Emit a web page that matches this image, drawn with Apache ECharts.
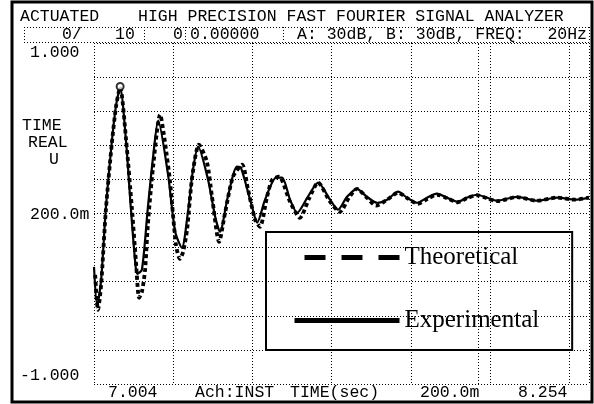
<!DOCTYPE html>
<html><head><meta charset="utf-8">
<script src="https://cdn.jsdelivr.net/npm/echarts@6/dist/echarts.min.js"></script>
<style>html,body{margin:0;padding:0;background:#fff}#c{width:594px;height:404px}</style>
</head><body><div id="c"></div>
<script>
// time measured from sweep start (7.004 s), seconds
const expTime = [0, 0.008, 0.018, 0.030, 0.045, 0.056, 0.066, 0.081, 0.093, 0.104, 0.109, 0.121, 0.136, 0.149, 0.162, 0.187, 0.205, 0.222, 0.237, 0.250, 0.263, 0.288, 0.306, 0.318, 0.338, 0.361, 0.371, 0.399, 0.412, 0.432, 0.460, 0.475, 0.495, 0.513, 0.540, 0.566, 0.596, 0.616, 0.639, 0.664, 0.689, 0.715, 0.740, 0.768, 0.790, 0.816, 0.841, 0.866, 0.891, 0.919, 0.942, 0.967, 0.992, 1.018, 1.068, 1.119, 1.169, 1.215, 1.25];
const expValue = [-0.313, -0.542, -0.389, 0.034, 0.421, 0.639, 0.739, 0.421, 0.034, -0.283, -0.354, -0.330, 0.034, 0.327, 0.545, 0.228, -0.107, -0.201, 0.004, 0.257, 0.392, 0.198, -0.019, -0.107, 0.098, 0.275, 0.269, 0.040, -0.054, 0.081, 0.210, 0.210, 0.081, 0.004, 0.098, 0.181, 0.081, 0.022, 0.098, 0.145, 0.098, 0.063, 0.081, 0.128, 0.093, 0.063, 0.093, 0.116, 0.093, 0.069, 0.093, 0.110, 0.093, 0.075, 0.098, 0.075, 0.093, 0.081, 0.093];
const theoTime = [0.003, 0.010, 0.018, 0.030, 0.045, 0.056, 0.066, 0.081, 0.096, 0.106, 0.114, 0.121, 0.129, 0.136, 0.149, 0.167, 0.179, 0.192, 0.207, 0.217, 0.225, 0.235, 0.248, 0.265, 0.285, 0.298, 0.316, 0.331, 0.351, 0.374, 0.389, 0.407, 0.419, 0.437, 0.450, 0.467, 0.495, 0.520, 0.543, 0.566, 0.596, 0.621, 0.644, 0.664, 0.689, 0.712, 0.740, 0.768, 0.793, 0.818, 0.843, 0.866, 0.891, 0.919, 0.942, 0.967, 0.992, 1.018, 1.068, 1.119, 1.169, 1.215, 1.25];
const theoValue = [-0.360, -0.565, -0.418, 0.022, 0.410, 0.633, 0.739, 0.433, 0.022, -0.283, -0.495, -0.460, -0.330, -0.066, 0.269, 0.580, 0.421, 0.187, -0.184, -0.266, -0.225, -0.095, 0.216, 0.404, 0.304, 0.098, -0.166, 0.004, 0.216, 0.286, 0.140, -0.037, -0.078, 0.098, 0.198, 0.216, 0.069, -0.025, 0.087, 0.181, 0.069, 0.010, 0.093, 0.145, 0.093, 0.046, 0.081, 0.122, 0.087, 0.057, 0.087, 0.110, 0.090, 0.066, 0.090, 0.107, 0.090, 0.072, 0.096, 0.075, 0.093, 0.081, 0.093];
const markerTime = [0.066];
const markerValue = [0.745];
const cursorTime = [0.967];
const seriesNames = ['Theoretical', 'Experimental'];
const headerTexts = ['ACTUATED', 'HIGH PRECISION FAST FOURIER SIGNAL ANALYZER', '0/', '10', '0', '0.00000', 'A: 30dB, B: 30dB, FREQ:', '20Hz'];
const yLabels = ['1.000', 'TIME', 'REAL', 'U', '200.0m', '-1.000'];
const xLabels = ['7.004', 'Ach:INST', 'TIME(sec)', '200.0m', '8.254'];

// ---- layout (positions/styles) ----
const MONO = '16.5px "Liberation Mono", "DejaVu Sans Mono", monospace';
const headerPos = [[20,17,'left'],[138,17,'left'],[62,35,'left'],[115,35,'left'],[173,35,'left'],[190,35,'left'],[297,35,'left'],[587,35,'right']];
const yLabelPos = [[30,53],[22,126],[28,143],[49,160],[30,215],[20,376]];
const xLabelPos = [[108,393],[195,393],[290,393],[420,393],[518,393]];

const graphics = [];
function txt(t, x, y, align) {
  graphics.push({type:'text', silent:true, style:{text:t, x:x, y:y, font:MONO, fill:'#000', textAlign:align||'left', textVerticalAlign:'middle'}});
}
headerTexts.forEach((t,i)=>txt(t, headerPos[i][0], headerPos[i][1], headerPos[i][2]));
yLabels.forEach((t,i)=>txt(t, yLabelPos[i][0], yLabelPos[i][1]));
xLabels.forEach((t,i)=>txt(t, xLabelPos[i][0], xLabelPos[i][1]));
function dl(x1,y1,x2,y2){
  graphics.push({type:'line', silent:true, shape:{x1:x1,y1:y1,x2:x2,y2:y2}, style:{stroke:'#000', lineWidth:1, lineDash:[1,2]}});
}
dl(24,27.5,589,27.5); dl(24,42.5,589,42.5);
[24,144,185,283,589].forEach(x=>dl(x+0.5,27,x+0.5,42));
graphics.push({type:'rect', silent:true, shape:{x:12, y:2, width:580, height:400}, style:{fill:'none', stroke:'#000', lineWidth:3}});

const gridLine = {show:true, lineStyle:{color:'#000', width:1, type:[1,2]}};
const chart = echarts.init(document.getElementById('c'), null, {renderer:'canvas'});
chart.setOption({
  animation:false,
  backgroundColor:'#fff',
  graphic: graphics,
  grid:{left:94, top:43, width:495, height:341, show:false},
  xAxis:{type:'value', min:0, max:1.25, interval:0.2, axisLine:{show:false}, axisTick:{show:false}, axisLabel:{show:false}, splitLine:gridLine},
  yAxis:{type:'value', min:-1, max:1, interval:0.2, axisLine:{show:false}, axisTick:{show:false}, axisLabel:{show:false}, splitLine:gridLine},
  legend:{
    orient:'vertical', left:266, top:232,
    padding:[13,33,17,26], itemGap:38, itemWidth:105, itemHeight:24,
    borderColor:'#000', borderWidth:2, backgroundColor:'transparent',
    itemStyle:{opacity:0, borderWidth:0},
    textStyle:{fontFamily:'"Liberation Serif", "Times New Roman", serif', fontSize:25, color:'#000'},
    data:[
      {name:seriesNames[0], itemStyle:{opacity:0, borderWidth:0}, lineStyle:{width:5, type:[21,16], dashOffset:27, color:'#000', opacity:1}},
      {name:seriesNames[1], itemStyle:{opacity:0, borderWidth:0}, lineStyle:{width:5, type:'solid', color:'#000', opacity:1}}
    ]
  },
  series:[
    {name:seriesNames[1], type:'line', symbol:'none', showSymbol:false, smooth:0.25, z:2,
     data: expTime.map((t,i)=>[t, expValue[i]]),
     lineStyle:{color:'#000', width:2.2}, itemStyle:{color:'#000'},
     markLine:{silent:true, symbol:'none', label:{show:false},
       lineStyle:{color:'#000', width:1, type:[1,2]},
       data: cursorTime.map(t=>({xAxis:t}))}},
    {name:seriesNames[0], type:'line', symbol:'none', showSymbol:false, smooth:0.25, z:3,
     data: theoTime.map((t,i)=>[t, theoValue[i]]),
     lineStyle:{color:'#000', width:3.8, type:[4,3]}, itemStyle:{color:'#000'}},
    {name:'marker', type:'scatter', symbol:'emptyCircle', symbolSize:7, z:4,
     data: markerTime.map((t,i)=>[t, markerValue[i]]),
     itemStyle:{color:'#000', borderColor:'#000', borderWidth:1.2}}
  ]
});
</script></body></html>
